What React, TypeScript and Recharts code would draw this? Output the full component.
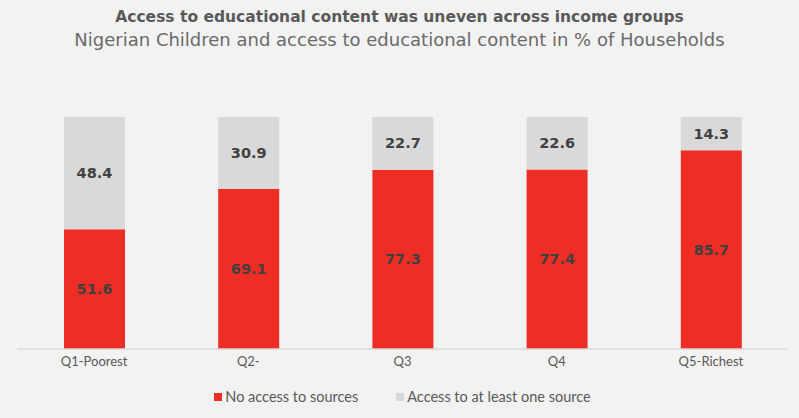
import React from 'react';
import { BarChart, Bar, XAxis, YAxis, Legend, LabelList } from 'recharts';

const categories = ['Q1-Poorest', 'Q2-', 'Q3', 'Q4', 'Q5-Richest'];
const noAccess = [51.6, 69.1, 77.3, 77.4, 85.7];
const someAccess = [48.4, 30.9, 22.7, 22.6, 14.3];
const seriesNames = ['No access to sources', 'Access to at least one source'];

const data = categories.map((name, i) => ({
  name,
  noAccess: noAccess[i],
  someAccess: someAccess[i],
}));

const FONT = 'Lato, "Open Sans", sans-serif';
const TITLE_FONT = '"DejaVu Sans", sans-serif';
const RED = '#ee2e24';
const GREY = '#d9d9d9';
const TEXT = '#595959';

function LegendContent() {
  const items = [
    { name: seriesNames[0], color: RED },
    { name: seriesNames[1], color: GREY },
  ];
  return (
    <div style={{ display: 'flex', justifyContent: 'center', gap: 38, fontSize: 14.5, color: TEXT, fontFamily: FONT }}>
      {items.map((it) => (
        <div key={it.name} style={{ display: 'flex', alignItems: 'center' }}>
          <span style={{ display: 'inline-block', width: 8, height: 8, background: it.color, marginRight: 3 }} />
          {it.name}
        </div>
      ))}
    </div>
  );
}

export default function App() {
  return (
    <div style={{ position: 'absolute', left: 0, top: 0, width: 799, height: 418, background: '#f2f2f2', fontFamily: FONT }}>
      <div style={{ position: 'absolute', top: 8, width: 799, textAlign: 'center', fontSize: 15.5, fontWeight: 700, color: TEXT, fontFamily: TITLE_FONT }}>
        Access to educational content was uneven across income groups
      </div>
      <div style={{ position: 'absolute', top: 29, width: 799, textAlign: 'center', fontSize: 18, color: '#6a6a6a', fontFamily: TITLE_FONT }}>
        Nigerian Children and access to  educational content in % of Households
      </div>
      <BarChart
        width={799}
        height={418}
        data={data}
        margin={{ top: 117, right: 11, bottom: 9, left: 17 }}
        barSize={61}
        style={{ position: 'absolute', left: 0, top: 0 }}
      >
        <XAxis
          dataKey="name"
          height={30}
          tick={{ fontSize: 13, fill: TEXT, fontFamily: FONT }}
          tickLine={false}
          axisLine={{ stroke: '#d9d9d9', strokeWidth: 1.5 }}
        />
        <YAxis hide domain={[0, 100]} />
        <Legend
          verticalAlign="bottom"
          height={30}
          wrapperStyle={{ top: 388 }}
          content={<LegendContent />}
        />
        <Bar dataKey="noAccess" name={seriesNames[0]} stackId="a" fill={RED} isAnimationActive={false}>
          <LabelList dataKey="noAccess" position="center" fill="#404040" fontSize={14.5} fontWeight={700} fontFamily={TITLE_FONT} />
        </Bar>
        <Bar dataKey="someAccess" name={seriesNames[1]} stackId="a" fill={GREY} isAnimationActive={false}>
          <LabelList dataKey="someAccess" position="center" fill="#404040" fontSize={14.5} fontWeight={700} fontFamily={TITLE_FONT} />
        </Bar>
      </BarChart>
    </div>
  );
}
